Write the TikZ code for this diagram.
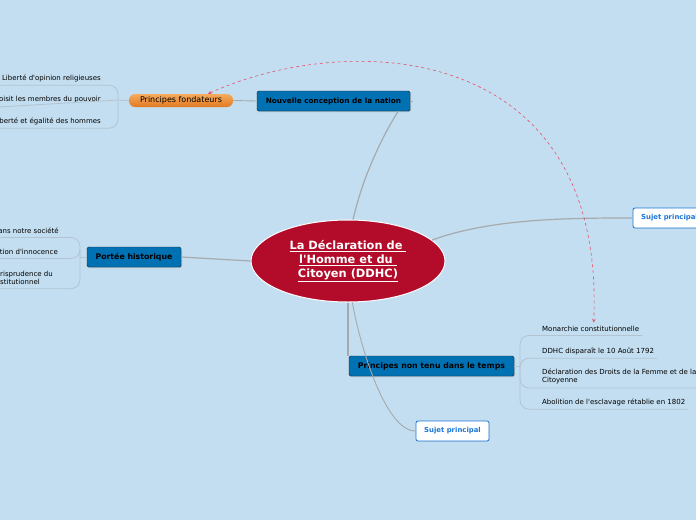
\documentclass[tikz,border=0pt]{standalone}
\usepackage{fontspec}
\newfontfamily\mapfont{DejaVu Sans}
\usepackage{tikz}
\usetikzlibrary{shapes,arrows,positioning,shadows}

\definecolor{bgblue}{RGB}{195,222,240}
\definecolor{ddhcred}{RGB}{178,12,42}
\definecolor{topicblue}{RGB}{0,114,180}
\definecolor{topicedge}{RGB}{25,35,45}
\definecolor{linkgray}{RGB}{165,170,175}
\definecolor{twiggray}{RGB}{178,196,210}
\definecolor{relred}{RGB}{228,82,108}
\definecolor{subblue}{RGB}{28,118,214}
\definecolor{pilltop}{RGB}{246,172,92}
\definecolor{pillbot}{RGB}{226,120,34}

\begin{document}
\mapfont
\begin{tikzpicture}[x=1pt, y=-1pt,
    central/.style={ellipse, draw=white, line width=1pt, fill=ddhcred, text=white,
                    minimum width=194pt, minimum height=82pt, inner sep=0pt,
                    align=center, font=\fontsize{11.4}{14}\selectfont\bfseries},
    topic/.style={rectangle, draw=topicedge, fill=topicblue, rounded corners=1.5pt,
                  minimum height=20pt, inner sep=2pt, font=\fontsize{7.8}{9}\selectfont\bfseries,
                  drop shadow={shadow xshift=1pt, shadow yshift=-1pt, opacity=0.35}},
    pill/.style={rectangle, rounded corners=6pt, top color=pilltop, bottom color=pillbot,
                 minimum width=104pt, minimum height=13pt, inner sep=1pt,
                 font=\fontsize{8}{9}\selectfont},
    subject/.style={rectangle, draw=subblue, line width=0.8pt, fill=white, rounded corners=2pt,
                    minimum width=73pt, minimum height=20pt, text=subblue,
                    font=\fontsize{6.9}{8}\selectfont\bfseries,
                    drop shadow={shadow xshift=0.5pt, shadow yshift=-0.5pt, opacity=0.2}},
    leaf/.style={inner xsep=1pt, inner ysep=3.5pt, align=left, font=\fontsize{7}{8.5}\selectfont},
    link/.style={draw=linkgray, line width=1.2pt},
    twig/.style={draw=twiggray, line width=0.8pt, rounded corners=9pt},
    relation/.style={<->, >=stealth, draw=relred, dashed, line width=0.6pt}
]
\useasboundingbox (0,0) rectangle (696,520);
\clip (0,0) rectangle (696,520);
\fill[bgblue] (0,0) rectangle (696,520);
\coordinate (edge) at (-3,0);

\node[central] (ddhc) at (348,261) {\underline{La Déclaration de }\\\underline{l'Homme et du }\\\underline{Citoyen (DDHC)}};
\node[topic, minimum width=153pt, font=\fontsize{7.3}{8}\selectfont\bfseries] (nation) at (333.5,101) {Nouvelle conception de la nation};
\node[pill] (fond) at (181,100.5) {Principes fondateurs};
\node[topic, minimum width=94pt] (portee) at (134,257) {Portée historique};
\node[topic, minimum width=165pt] (tenu) at (431.5,366) {Principes non tenu dans le temps};
\node[subject] (sujeta) at (669.5,218) {Sujet principal};
\node[subject] (sujetb) at (452.5,431) {Sujet principal};

\node[leaf, anchor=east] (opinion) at (102,78) {Liberté d'opinion religieuses};
\node[leaf, anchor=east] (pouvoir) at (102,100) {oisit les membres du pouvoir};
\node[leaf, anchor=east] (egalite) at (102,121) {berté et égalité des hommes};

\node[leaf, anchor=east] (societe) at (60,231) {ans notre société};
\node[leaf, anchor=east] (innocence) at (59,252) {otion d'innocence};
\node[leaf, anchor=west] (juris) at (-1,278) {risprudence du\\stitutionnel};

\node[leaf, anchor=west] (monarchie) at (541,329) {Monarchie constitutionnelle};
\node[leaf, anchor=west] (disparait) at (541,351) {DDHC disparaît le 10 Août 1792};
\node[leaf, anchor=west] (femme) at (541,376.5) {Déclaration des Droits de la Femme et de la\\Citoyenne};
\node[leaf, anchor=west] (esclavage) at (541,402) {Abolition de l'esclavage rétablie en 1802};

\coordinate (forkf) at (118,100);
\coordinate (forkp) at (80,257);
\coordinate (forkt) at (520,366);

\draw[link] (ddhc.83) .. controls +(10,-45) and +(-14,22) .. ([xshift=-12pt]nation.south east);
\draw[link] (ddhc.14) .. controls +(60,-22) and +(-60,0) .. (sujeta.west);
\draw[link] (ddhc.west) -- (portee.east);
\draw[link] (ddhc.south) -- (ddhc.south |- tenu.north);
\draw[link, line width=0.9pt] (ddhc.-84) .. controls +(8,45) and +(-30,0) .. (sujetb.west);
\draw[link, line width=0.9pt] (nation.west) -- (fond.east);
\draw[link, line width=0.9pt] (nation.east) -- ++(3,0);

\draw[twig] (fond.west) -- (forkf);
\draw[twig] (forkf) |- (edge |- opinion.south);
\draw[twig] (forkf) -- (edge |- pouvoir.south);
\draw[twig] (forkf) |- (edge |- egalite.south);

\draw[twig] (portee.west) -- (forkp);
\draw[twig] (forkp) |- (edge |- societe.south);
\draw[twig] (forkp) |- (edge |- innocence.south);
\draw[twig] (forkp) |- (edge |- juris.south);

\draw[twig] (tenu.east) -- (forkt);
\draw[twig] (forkt) |- ([xshift=2pt]monarchie.south east);
\draw[twig] (forkt) |- ([xshift=2pt]disparait.south east);
\draw[twig] (forkt) |- ([xshift=2pt]femme.south east);
\draw[twig] (forkt) |- ([xshift=2pt]esclavage.south east);

\draw[relation] ([xshift=27pt]fond.north) .. controls +(142,-64) and +(12,-282) .. ([xshift=3pt]monarchie.north);
\end{tikzpicture}
\end{document}
